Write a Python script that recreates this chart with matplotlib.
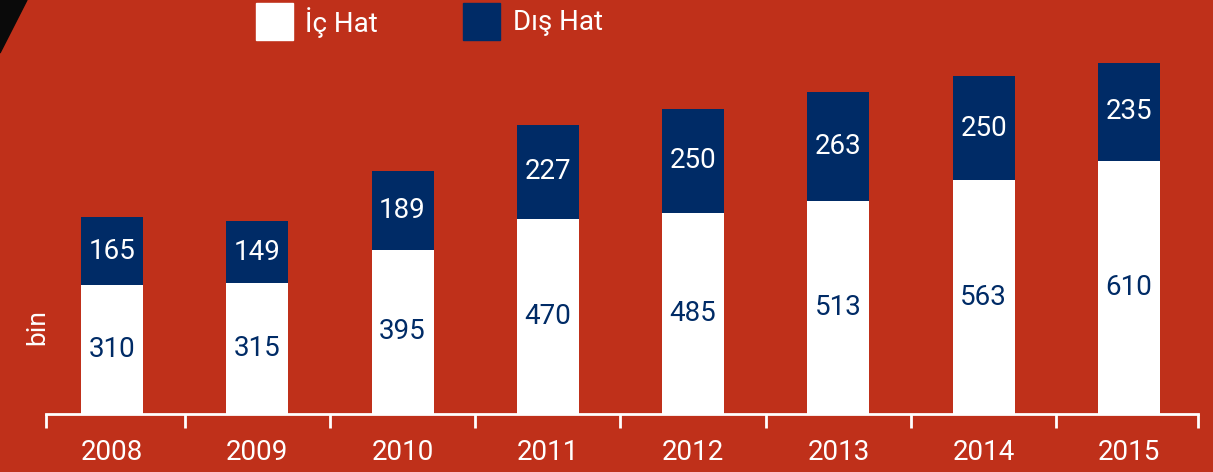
import numpy as np
import matplotlib
matplotlib.use("Agg")
import matplotlib.pyplot as plt
from matplotlib.patches import Rectangle, Polygon

years = ["2008", "2009", "2010", "2011", "2012", "2013", "2014", "2015"]
ic_hat = [310, 315, 395, 470, 485, 513, 563, 610]
dis_hat = [165, 149, 189, 227, 250, 263, 250, 235]

RED = "#BF301A"
NAVY = "#002B66"
WHITE = "#FFFFFF"

plt.rcParams["font.family"] = ["Roboto", "DejaVu Sans"]

fig = plt.figure(figsize=(12.13, 4.72), dpi=100, facecolor=RED)
ax = fig.add_axes([46 / 1213, 58 / 472, 1152 / 1213, 414 / 472])
ax.set_facecolor(RED)

x = np.arange(len(years))
w = 0.427
ax.bar(x, ic_hat, width=w, color=WHITE, edgecolor="none")
ax.bar(x, dis_hat, width=w, bottom=ic_hat, color=NAVY, edgecolor="none")

for xi, a, b in zip(x, ic_hat, dis_hat):
    ax.text(xi, a / 2, str(a), ha="center", va="center", color=NAVY, fontsize=20)
    ax.text(xi, a + b / 2, str(b), ha="center", va="center", color=WHITE, fontsize=20)

x0, x1 = -0.454, len(years) - 1 + 0.475
ax.set_xlim(x0, x1)
ax.set_ylim(0, 997)
for s in ["top", "right", "left"]:
    ax.spines[s].set_visible(False)
ax.spines["bottom"].set_color(WHITE)
ax.spines["bottom"].set_linewidth(2)
ax.set_yticks([])
ax.set_xticks(x)
ax.set_xticklabels(years, color=WHITE, fontsize=20)
ax.tick_params(axis="x", which="major", length=0, pad=18)
ax.set_xticks([x0] + list(np.arange(0.5, len(years) - 1)) + [x1], minor=True)
ax.tick_params(axis="x", which="minor", length=10, width=2, color=WHITE)

ax.text(-0.0078, 0.21, "bin", transform=ax.transAxes, rotation=90, color=WHITE,
        fontsize=19, ha="center", va="center")

# legend
fig.patches.append(Rectangle((256 / 1213, 1 - 40 / 472), 37 / 1213, 37 / 472,
                             transform=fig.transFigure, color=WHITE))
fig.text(305 / 1213, 1 - 23 / 472, "İç Hat", color=WHITE, fontsize=20, va="center")
fig.patches.append(Rectangle((463 / 1213, 1 - 40 / 472), 37 / 1213, 37 / 472,
                             transform=fig.transFigure, color=NAVY))
fig.text(513 / 1213, 1 - 23 / 472, "Dış Hat", color=WHITE, fontsize=20, va="center")

# black corner
fig.patches.append(Polygon([(0, 1), (27 / 1213, 1), (0, 1 - 53 / 472)], closed=True,
                           transform=fig.transFigure, color="#0A0A0A"))

fig.savefig("out.png", dpi=100, facecolor=RED)
